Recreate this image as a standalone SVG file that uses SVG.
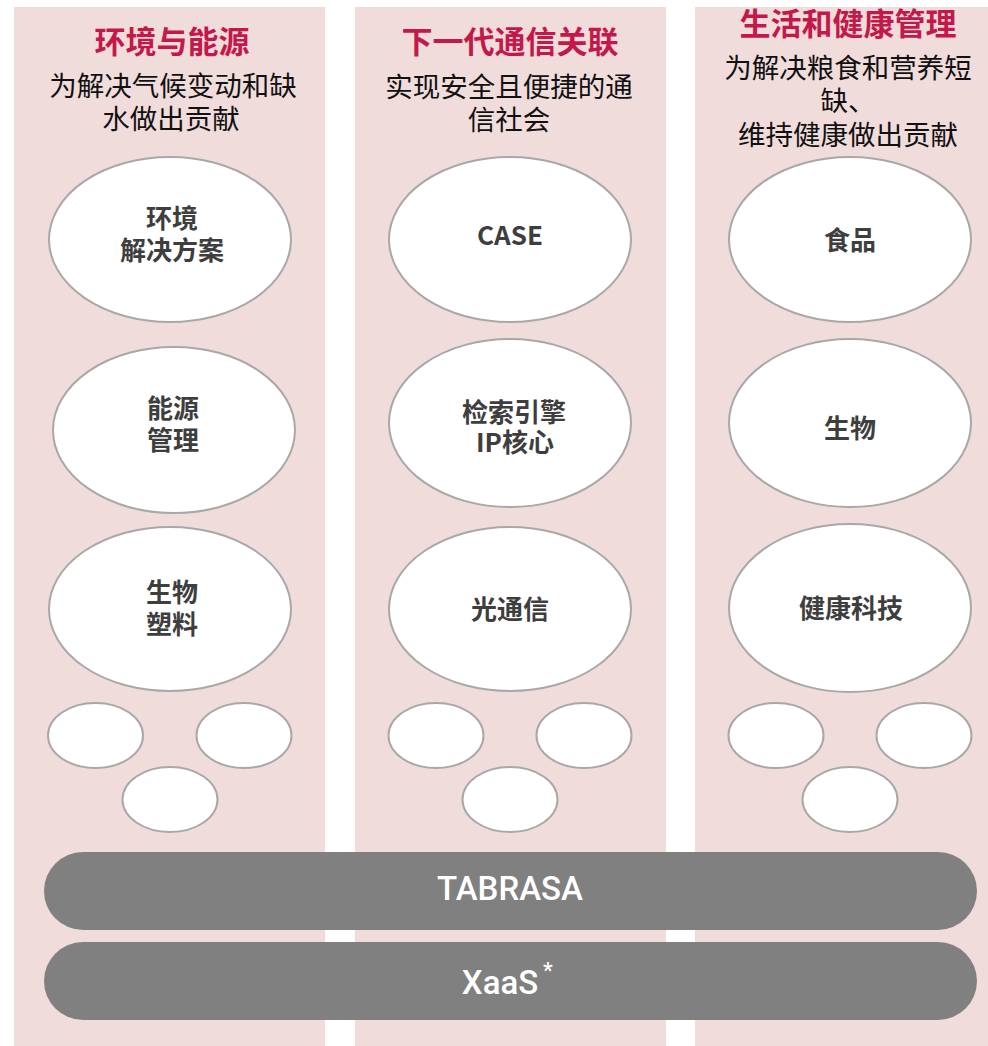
<svg xmlns="http://www.w3.org/2000/svg" width="988" height="1046" viewBox="0 0 988 1046">
<style>
.col{fill:#f1dcdc}
.title{font-family:"Noto Sans CJK SC","Noto Sans",sans-serif;font-size:31px;font-weight:700;fill:#c4184b;text-anchor:middle}
.sub{font-family:"Noto Sans CJK SC","Noto Sans",sans-serif;font-size:27.5px;font-weight:400;fill:#111;text-anchor:middle}
.node ellipse{fill:#fff;stroke:#a8a8a8;stroke-width:2}
.lbl{font-family:"Noto Sans CJK SC","Noto Sans",sans-serif;font-size:26px;font-weight:700;fill:#3e3e3e;text-anchor:middle}
.bar{fill:#808080}
.barTxt{font-family:Roboto,"Liberation Sans",sans-serif;font-size:33px;font-weight:500;fill:#fff;text-anchor:middle}
</style>
<rect width="988" height="1046" fill="#ffffff"/>
<g id="columns">
<rect class="col" x="14" y="7" width="311" height="1039"/>
<rect class="col" x="355" y="7" width="311" height="1039"/>
<rect class="col" x="695" y="7" width="293" height="1039"/>
</g>
<g id="header-1">
<text class="title" x="172" y="53">环境与能源</text>
<text class="sub" x="173" y="96">为解决气候变动和缺</text>
<text class="sub" x="171" y="129">水做出贡献</text>
</g>
<g id="header-2">
<text class="title" x="510" y="53">下一代通信关联</text>
<text class="sub" x="509" y="97">实现安全且便捷的通</text>
<text class="sub" x="509" y="130">信社会</text>
</g>
<g id="header-3">
<text class="title" x="848" y="35">生活和健康管理</text>
<text class="sub" x="848" y="78">为解决粮食和营养短</text>
<text class="sub" x="848" y="111">缺、</text>
<text class="sub" x="848" y="145">维持健康做出贡献</text>
</g>
<g id="n-env" class="node"><ellipse cx="170" cy="239.5" rx="121" ry="82.5"/><text class="lbl" x="172" y="228">环境</text><text class="lbl" x="172" y="260">解决方案</text></g>
<g id="n-energy" class="node"><ellipse cx="174" cy="430" rx="121" ry="83"/><text class="lbl" x="173" y="418">能源</text><text class="lbl" x="173" y="450">管理</text></g>
<g id="n-bioplastic" class="node"><ellipse cx="170" cy="609" rx="121" ry="82"/><text class="lbl" x="172" y="602">生物</text><text class="lbl" x="172" y="634">塑料</text></g>
<g id="n-s1a" class="node"><ellipse cx="95.5" cy="735.5" rx="47.5" ry="32.5"/></g>
<g id="n-s1b" class="node"><ellipse cx="244" cy="735.5" rx="47.5" ry="32.5"/></g>
<g id="n-s1c" class="node"><ellipse cx="170" cy="799.5" rx="47.5" ry="32.5"/></g>
<g id="n-case" class="node"><ellipse cx="510" cy="239.5" rx="121" ry="82.5"/><text class="lbl" x="510" y="245">CASE</text></g>
<g id="n-search" class="node"><ellipse cx="510" cy="423" rx="121" ry="84"/><text class="lbl" x="514" y="422">检索引擎</text><text class="lbl" x="515" y="452">IP核心</text></g>
<g id="n-optical" class="node"><ellipse cx="510" cy="609" rx="121" ry="82"/><text class="lbl" x="510" y="619">光通信</text></g>
<g id="n-s2a" class="node"><ellipse cx="436" cy="735.5" rx="47.5" ry="32.5"/></g>
<g id="n-s2b" class="node"><ellipse cx="584" cy="735.5" rx="47.5" ry="32.5"/></g>
<g id="n-s2c" class="node"><ellipse cx="510" cy="799.5" rx="47.5" ry="32.5"/></g>
<g id="n-food" class="node"><ellipse cx="850" cy="239.5" rx="121" ry="82.5"/><text class="lbl" x="850" y="250">食品</text></g>
<g id="n-bio" class="node"><ellipse cx="850" cy="423" rx="121" ry="84"/><text class="lbl" x="850" y="438">生物</text></g>
<g id="n-health" class="node"><ellipse cx="850" cy="608" rx="121" ry="84"/><text class="lbl" x="851" y="618">健康科技</text></g>
<g id="n-s3a" class="node"><ellipse cx="776" cy="735.5" rx="47.5" ry="32.5"/></g>
<g id="n-s3b" class="node"><ellipse cx="924" cy="735.5" rx="47.5" ry="32.5"/></g>
<g id="n-s3c" class="node"><ellipse cx="850" cy="799.5" rx="47.5" ry="32.5"/></g>
<g id="n-tabrasa"><rect class="bar" x="44" y="852" width="933" height="78" rx="39"/><text class="barTxt" x="510" y="900">TABRASA</text></g>
<g id="n-xaas"><rect class="bar" x="44" y="942" width="933" height="78" rx="39"/><text class="barTxt" x="500" y="994">XaaS</text><text class="barTxt" x="548" y="978" style="font-size:22px">*</text></g>
<g id="connectors"></g>
</svg>
